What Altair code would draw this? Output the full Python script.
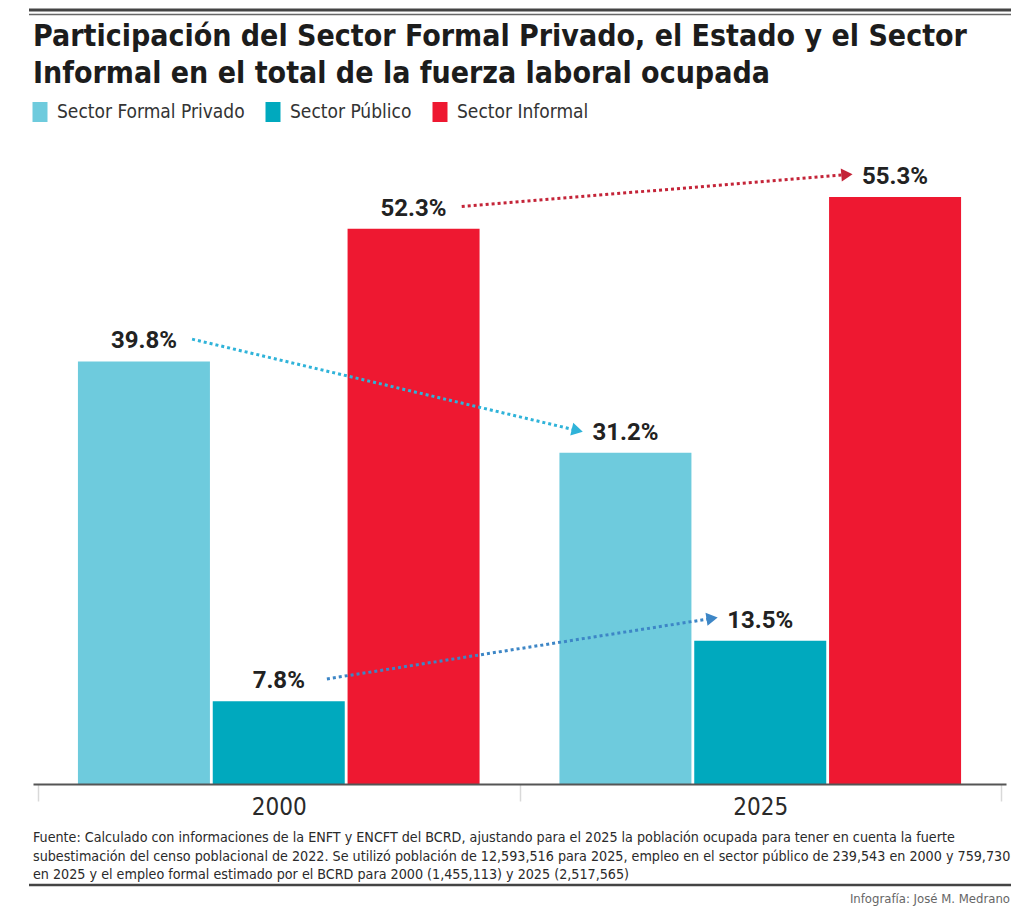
import math
import altair as alt
import pandas as pd

# ---------------- data ----------------
years = ["2000", "2025"]
sectors = ["Sector Formal Privado", "Sector Público", "Sector Informal"]
values_2000 = [39.8, 7.8, 52.3]
values_2025 = [31.2, 13.5, 55.3]

title_lines = [
    "Participación del Sector Formal Privado, el Estado y el Sector",
    "Informal en el total de la fuerza laboral ocupada",
]
footnote_lines = [
    "Fuente: Calculado con informaciones de la ENFT y ENCFT del BCRD, ajustando para el 2025 la población ocupada para tener en cuenta la fuerte",
    "subestimación del censo poblacional de 2022. Se utilizó población de 12,593,516 para 2025, empleo en el sector público de 239,543 en 2000 y 759,730",
    "en 2025 y el empleo formal estimado por el BCRD para 2000 (1,455,113) y 2025 (2,517,565)",
]
credit = "Infografía: José M. Medrano"

# ---------------- style ----------------
bar_colors = ["#6ecbdd", "#00a9be", "#ee1831"]
arrow_colors = ["#2fb3d9", "#3d86c6", "#c42438"]
W, H = 973, 637
YMAX = 60
XMIN, XMAX = -0.5, 1.5
OFF = 0.28          # bar offset within a year group (x units)
ARR_DX = 0.1        # arrow start/end distance from bar centre (x units)
ARR_DY = 2.1        # arrow height above bar top (y units)
NARROW = "Liberation Sans Narrow, DejaVu Sans Condensed, Roboto, sans-serif"

series = [values_2000, values_2025]
rows = []
for yi, yr in enumerate(years):
    for si, sec in enumerate(sectors):
        v = series[yi][si]
        rows.append({"year": yr, "sector": sec, "xpos": yi + (si - 1) * OFF,
                     "value": v, "label": f"{v:.1f}%"})
bars_df = pd.DataFrame(rows)

xpx = W / (XMAX - XMIN)
ypx = H / YMAX
arows = []
for si, sec in enumerate(sectors):
    xs = 0 + (si - 1) * OFF + ARR_DX
    xe = 1 + (si - 1) * OFF - ARR_DX
    ys = values_2000[si] + ARR_DY
    ye = values_2025[si] + ARR_DY
    ang = math.degrees(math.atan2(-(ye - ys) * ypx, (xe - xs) * xpx)) % 360
    arows.append({"sector": sec, "xs": xs, "ys": ys, "xe": xe, "ye": ye, "ang": ang})
arrows_df = pd.DataFrame(arows)

xscale = alt.Scale(domain=[XMIN, XMAX], nice=False, zero=False)
yscale = alt.Scale(domain=[0, YMAX], nice=False)

bars = alt.Chart(bars_df).mark_bar(size=132).encode(
    x=alt.X("xpos:Q", scale=xscale, axis=alt.Axis(
        values=[-0.5, 0, 0.5, 1, 1.5],
        labelExpr="datum.value == 0 ? '2000' : datum.value == 1 ? '2025' : ''",
        tickColor={"condition": {"test": "datum.value == 0 || datum.value == 1",
                                 "value": "transparent"}, "value": "#d9d9d9"},
        tickSize=17, tickWidth=1.5, labelPadding=-6,
        labelFont=NARROW, labelFontSize=24, labelColor="#2a2a2a",
        labelFlush=False, labelBound=False,
        domainColor="#555555", domainWidth=2, grid=False, title=None, zindex=1)),
    y=alt.Y("value:Q", scale=yscale, axis=None),
    color=alt.Color("sector:N", scale=alt.Scale(domain=sectors, range=bar_colors),
                    legend=alt.Legend(
                        orient="none", legendX=-3, legendY=-45, direction="horizontal",
                        title=None, symbolType="M-0.75,-1H0.75V1H-0.75Z",
                        symbolSize=400, symbolStrokeWidth=0, symbolOpacity=1,
                        labelFont=NARROW, labelFontSize=19, labelColor="#333333",
                        labelLimit=400, labelOffset=7, columnPadding=18)),
)

labels = alt.Chart(bars_df).mark_text(
    font="Roboto", fontWeight="bold", fontSize=24, color="#222222",
    baseline="alphabetic", dy=-13,
).encode(x=alt.X("xpos:Q", scale=xscale), y=alt.Y("value:Q", scale=yscale), text="label:N")

arrow_color = alt.Color("sector:N", scale=alt.Scale(domain=sectors, range=arrow_colors), legend=None)
arrow_lines = alt.Chart(arrows_df).mark_rule(strokeDash=[3, 3], strokeWidth=3).encode(
    x=alt.X("xs:Q", scale=xscale), y=alt.Y("ys:Q", scale=yscale),
    x2="xe:Q", y2="ye:Q", color=arrow_color)
arrow_heads = alt.Chart(arrows_df).mark_point(shape="triangle-right", filled=True,
                                              size=170, opacity=1).encode(
    x=alt.X("xe:Q", scale=xscale), y=alt.Y("ye:Q", scale=yscale),
    angle=alt.Angle("ang:Q", scale=None), color=arrow_color)

one = pd.DataFrame({"k": [0]})

title = alt.Chart(one).mark_text(
    text="\n".join(title_lines), lineBreak="\n", lineHeight=37,
    font=NARROW, fontWeight="bold", fontSize=30, color="#1c1c1c",
    align="left", baseline="alphabetic",
).encode(x=alt.value(0), y=alt.value(-101))

footnote = alt.Chart(one).mark_text(
    text="\n".join(footnote_lines), lineBreak="\n", lineHeight=18.5,
    font=NARROW, fontSize=14.2, color="#2a2a2a", align="left", baseline="alphabetic",
).encode(x=alt.value(0), y=alt.value(695))

credit_t = alt.Chart(one).mark_text(
    text=credit, font=NARROW, fontSize=13, color="#666666", align="right", baseline="top",
).encode(x=alt.value(977), y=alt.value(746))

rule_top1 = alt.Chart(one).mark_rule(color="#444444", strokeWidth=3).encode(
    x=alt.value(-4), x2=alt.value(978), y=alt.value(-137))
rule_top2 = alt.Chart(one).mark_rule(color="#666666", strokeWidth=1.5).encode(
    x=alt.value(-4), x2=alt.value(978), y=alt.value(-132.5))
rule_bottom = alt.Chart(one).mark_rule(color="#444444", strokeWidth=2.5).encode(
    x=alt.value(-4), x2=alt.value(978), y=alt.value(738))

chart = alt.layer(
    bars, arrow_lines, arrow_heads, labels, title, footnote, credit_t,
    rule_top1, rule_top2, rule_bottom,
).resolve_scale(color="independent").properties(
    width=W, height=H,
    autosize=alt.AutoSizeParams(type="none"),
    padding={"left": 25, "top": 139, "right": 10, "bottom": 126},
).configure_view(stroke=None)

chart.save("out.html", embed_options={"renderer": "svg", "actions": False})
